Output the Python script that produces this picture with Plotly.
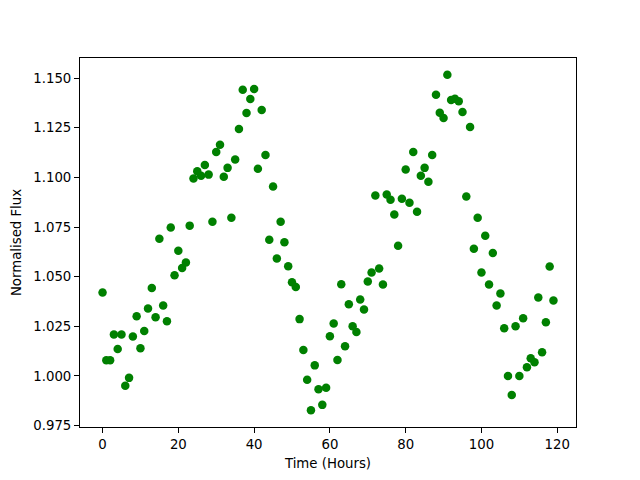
import plotly.graph_objects as go

hours = list(range(120))
flux = [
    1.0420, 1.0079, 1.0079, 1.0209, 1.0135, 1.0209, 0.9950, 0.9990, 1.0199, 1.0300,
    1.0139, 1.0226, 1.0340, 1.0443, 1.0295, 1.0691, 1.0355, 1.0275, 1.0747, 1.0507,
    1.0631, 1.0544, 1.0571, 1.0757, 1.0994, 1.1031, 1.1008, 1.1063, 1.1014, 1.0777,
    1.1128, 1.1165, 1.1003, 1.1048, 1.0797, 1.1090, 1.1244, 1.1441, 1.1324, 1.1395,
    1.1445, 1.1043, 1.1339, 1.1113, 1.0686, 1.0954, 1.0591, 1.0777, 1.0673, 1.0552,
    1.0472, 1.0448, 1.0286, 1.0130, 0.9980, 0.9827, 1.0053, 0.9933, 0.9854, 0.9940,
    1.0200, 1.0264, 1.0080, 1.0462, 1.0149, 1.0361, 1.0250, 1.0221, 1.0385, 1.0335,
    1.0475, 1.0521, 1.0909, 1.0541, 1.0460, 1.0914, 1.0887, 1.0813, 1.0656, 1.0892,
    1.1040, 1.0872, 1.1128, 1.0827, 1.1008, 1.1048, 1.0978, 1.1113, 1.1416, 1.1326,
    1.1299, 1.1517, 1.1390, 1.1396, 1.1384, 1.1329, 1.0904, 1.1254, 1.0640, 1.0797,
    1.0521, 1.0706, 1.0460, 1.0619, 1.0355, 1.0415, 1.0240, 1.0000, 0.9904, 1.0250,
    1.0000, 1.0290, 1.0043, 1.0089, 1.0069, 1.0395, 1.0119, 1.0270, 1.0551, 1.0380,
]

x_ticks = [0, 20, 40, 60, 80, 100, 120]
y_ticks = [0.975, 1.000, 1.025, 1.050, 1.075, 1.100, 1.125, 1.150]

fig = go.Figure(go.Scatter(
    x=hours, y=flux, mode="markers",
    marker=dict(color="#008000", size=8.5, line=dict(width=0)),
))

font = dict(family="DejaVu Sans", size=13.3, color="black")
axis_common = dict(
    showline=True, linecolor="black", linewidth=1, mirror=True,
    ticks="outside", ticklen=5, tickwidth=1, tickcolor="black",
    showgrid=False, zeroline=False, tickfont=font, automargin=False,
)

xmin, xmax = min(hours), max(hours)
ymin, ymax = min(flux), max(flux)
xpad = (xmax - xmin) * 0.05
ypad = (ymax - ymin) * 0.05

# page body has an 8px default margin, so the figure is offset by 8px
fig.update_layout(
    width=632, height=472,
    margin=dict(l=72, r=64, t=50, b=53),
    paper_bgcolor="white", plot_bgcolor="white",
    showlegend=False,
    font=font,
    xaxis=dict(axis_common, range=[xmin - xpad, xmax + xpad], tickvals=x_ticks,
               title=dict(text="Time (Hours)", font=font, standoff=7)),
    yaxis=dict(axis_common, range=[ymin - ypad, ymax + ypad], tickvals=y_ticks,
               tickformat=".3f",
               title=dict(text="Normalised Flux", font=font, standoff=8)),
)

fig.write_html("out.html")
